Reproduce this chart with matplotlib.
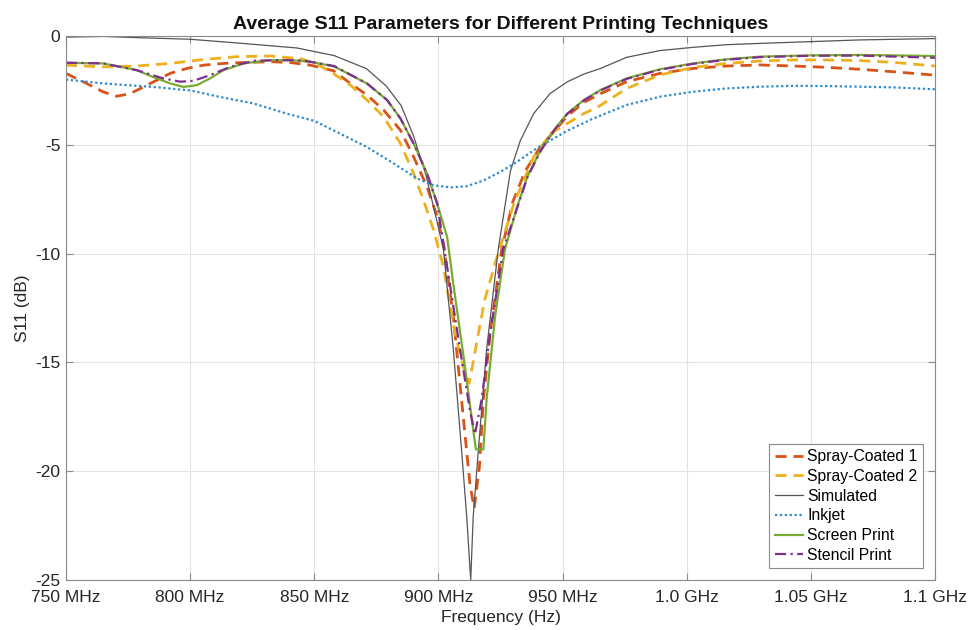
import matplotlib
matplotlib.use("Agg")
import matplotlib.pyplot as plt

plt.rcParams['font.family'] = ['Liberation Sans', 'DejaVu Sans']
plt.rcParams['axes.unicode_minus'] = False

# ---------------- data (frequency in MHz, S11 in dB) ----------------
f_spray1 = [750, 758.3, 765, 770.4, 775.8, 781.2, 786.6, 791.9, 798.7, 805.4, 813.4, 821.5,
            832.3, 840.3, 848.4, 857.8, 864.5, 871.2, 877.9, 884.7, 890, 895.4, 899.5, 902.2,
            906, 909.3, 912.7, 914.4, 916.5, 918.1, 920.8, 925.5, 930, 935, 941, 946.5, 951.9,
            958.6, 965.3, 975.8, 989.2, 1002.6, 1016, 1029.5, 1043, 1056.4, 1069.8, 1083, 1100]
s_spray1 = [-1.72, -2.18, -2.57, -2.77, -2.65, -2.34, -2.03, -1.72, -1.49, -1.34, -1.26, -1.22,
            -1.18, -1.22, -1.34, -1.6, -2.18, -2.71, -3.4, -4.33, -5.55, -6.93, -8.31, -9.69,
            -12.9, -16.7, -20.6, -21.7, -19.8, -16.7, -13.7, -9.8, -7.6, -6.2, -5.1, -4.4, -3.68,
            -3.05, -2.65, -2.1, -1.72, -1.49, -1.38, -1.33, -1.38, -1.44, -1.53, -1.64, -1.8]

f_spray2 = [750, 765, 778.5, 792, 805.4, 818.8, 832.3, 845, 852, 858, 864.5, 871.2, 877.9,
            884.7, 890, 894, 898.1, 902, 906.7, 910.7, 912.4, 915.4, 918.7, 923.5, 930.4, 938.4,
            945.2, 951.9, 958.6, 964, 975.8, 989.2, 1002.6, 1016, 1029.5, 1043, 1056.4, 1069.8,
            1083, 1100]
s_spray2 = [-1.34, -1.42, -1.38, -1.26, -1.08, -0.95, -0.92, -1.05, -1.35, -1.75, -2.25, -2.94,
            -3.71, -4.94, -6.32, -7.55, -8.93, -10.6, -13.7, -15.5, -15.96, -14.1, -12.1, -10.2,
            -7.7, -5.55, -4.48, -4.02, -3.56, -3.28, -2.41, -1.79, -1.44, -1.26, -1.15, -1.1,
            -1.1, -1.13, -1.21, -1.38]

f_sim = [750, 765, 780, 800, 820, 843, 858, 871, 879, 885, 890, 895, 900, 902, 906, 909.3,
         911.4, 913.0, 914.0, 916.1, 919.4, 924.1, 929, 933, 938.4, 945, 952, 958.6, 965.3,
         975.8, 989.2, 1002.6, 1016, 1029.5, 1049.6, 1069.8, 1100]
s_sim = [-0.05, -0.02, -0.08, -0.15, -0.33, -0.55, -0.9, -1.5, -2.3, -3.2, -4.6, -6.4, -8.8,
         -9.8, -14.4, -19.0, -22.1, -25.0, -22.1, -19.0, -14.4, -9.8, -6.2, -4.8, -3.56, -2.64,
         -2.1, -1.75, -1.49, -0.98, -0.67, -0.52, -0.4, -0.34, -0.26, -0.18, -0.12]

f_inkjet = [750, 765, 785, 800, 812, 825.5, 839, 850, 858, 871, 882, 891.4, 898, 905, 911.6,
            918.3, 925, 931.7, 938.4, 945.2, 952, 962.4, 975.8, 989.2, 1002.6, 1016, 1029.5,
            1043, 1056.4, 1069.8, 1083, 1100]
s_inkjet = [-2.0, -2.18, -2.34, -2.5, -2.8, -3.1, -3.57, -3.9, -4.35, -5.09, -5.86, -6.55,
            -6.86, -6.96, -6.9, -6.63, -6.24, -5.78, -5.25, -4.79, -4.35, -3.79, -3.17, -2.79,
            -2.56, -2.41, -2.33, -2.29, -2.3, -2.33, -2.36, -2.45]

f_screen = [750, 765, 778.5, 785, 792, 797.3, 802.7, 808, 813.4, 821.5, 832.3, 840.3, 848.4,
            858, 871.2, 879.3, 884.7, 890, 895.4, 899.5, 903.5, 906, 910.7, 914, 915.1, 918.1,
            919.4, 922.8, 926.8, 931.7, 935.8, 941.1, 946.5, 951.9, 958.6, 965.3, 975.8, 989.2,
            1002.6, 1016, 1029.5, 1049.6, 1069.8, 1100]
s_screen = [-1.23, -1.26, -1.57, -1.88, -2.18, -2.34, -2.26, -1.95, -1.57, -1.26, -1.11, -1.11,
            -1.18, -1.4, -2.18, -2.94, -3.79, -4.94, -6.32, -7.7, -9.23, -11.4, -15.2, -18.1,
            -19.0, -19.0, -16.7, -12.9, -9.8, -7.85, -6.47, -5.25, -4.33, -3.56, -2.94, -2.48,
            -1.95, -1.53, -1.26, -1.07, -0.95, -0.89, -0.87, -0.92]

f_stencil = [750, 765, 778.5, 789.2, 796, 801.3, 808, 816.1, 825.5, 834.9, 845, 858, 871.2,
             879.3, 884.7, 890, 895.4, 899.5, 904.6, 908.7, 912.7, 914.7, 917.4, 920.8, 926.1,
             931.7, 935.8, 941.1, 946.5, 951.9, 958.6, 965.3, 975.8, 989.2, 1002.6, 1016,
             1029.5, 1049.6, 1069.8, 1100]
s_stencil = [-1.23, -1.26, -1.57, -1.95, -2.1, -2.06, -1.8, -1.42, -1.14, -1.11, -1.12, -1.38,
             -2.18, -2.94, -3.79, -4.94, -6.32, -7.7, -11.4, -14.4, -17.2, -18.3, -16.7, -13.7,
             -9.8, -7.9, -6.5, -5.3, -4.35, -3.58, -2.96, -2.5, -1.97, -1.55, -1.28, -1.09,
             -0.97, -0.91, -0.9, -1.0]

x_ticks = [750, 800, 850, 900, 950, 1000, 1050, 1100]
x_tick_labels = ['750 MHz', '800 MHz', '850 MHz', '900 MHz', '950 MHz', '1.0 GHz', '1.05 GHz', '1.1 GHz']
y_ticks = [0, -5, -10, -15, -20, -25]
y_tick_labels = ['0', '-5', '-10', '-15', '-20', '-25']

# ---------------- figure ----------------
fig = plt.figure(figsize=(9.71, 6.3), dpi=100)
ax = fig.add_axes([66 / 971, 50 / 630, 869 / 971, 544 / 630])

ax.plot(f_spray1, s_spray1, color='#D95319', lw=2.0, dashes=(4, 2.5), label='Spray-Coated 1')
ax.plot(f_spray2, s_spray2, color='#EDB120', lw=2.0, dashes=(4, 2.5), label='Spray-Coated 2')
ax.plot(f_sim, s_sim, color='#555555', lw=0.9, label='Simulated')
ax.plot(f_inkjet, s_inkjet, color='#2a8ad0', lw=1.6, linestyle=(0, (1, 1.2)), label='Inkjet')
ax.plot(f_screen, s_screen, color='#77AC30', lw=1.6, label='Screen Print')
ax.plot(f_stencil, s_stencil, color='#7E2F8E', lw=1.6, linestyle=(0, (5, 2, 1, 2)), label='Stencil Print')

ax.set_xlim(750, 1100)
ax.set_ylim(-25, 0)
ax.set_xticks(x_ticks)
ax.set_xticklabels(x_tick_labels)
ax.set_yticks(y_ticks)
ax.set_yticklabels(y_tick_labels)

ax.grid(True, color='#e3e3e3', lw=0.8)
ax.set_axisbelow(True)
for sp in ax.spines.values():
    sp.set_color('#8a8a8a')
    sp.set_linewidth(0.8)
ax.tick_params(direction='in', length=5, width=0.8, color='#8a8a8a',
               top=True, right=True, labelsize=12.5, labelcolor='#262626')
ax.tick_params(axis='x', pad=7)
ax.tick_params(axis='y', pad=4)

ax.set_title('Average S11 Parameters for Different Printing Techniques',
             fontsize=14, fontweight='bold', color='#111111', pad=5)
ax.set_xlabel('Frequency (Hz)', fontsize=12.5, color='#262626', labelpad=4)
ax.set_ylabel('S11 (dB)', fontsize=12.5, color='#262626', labelpad=4)

leg = ax.legend(loc='lower right', fontsize=11.3, handlelength=1.8, handletextpad=0.3,
                labelspacing=0.3, borderpad=0.35, borderaxespad=0.75, fancybox=False,
                framealpha=1, edgecolor='#8a8a8a')
leg.get_frame().set_linewidth(0.8)

fig.savefig('out.png', dpi=100)
